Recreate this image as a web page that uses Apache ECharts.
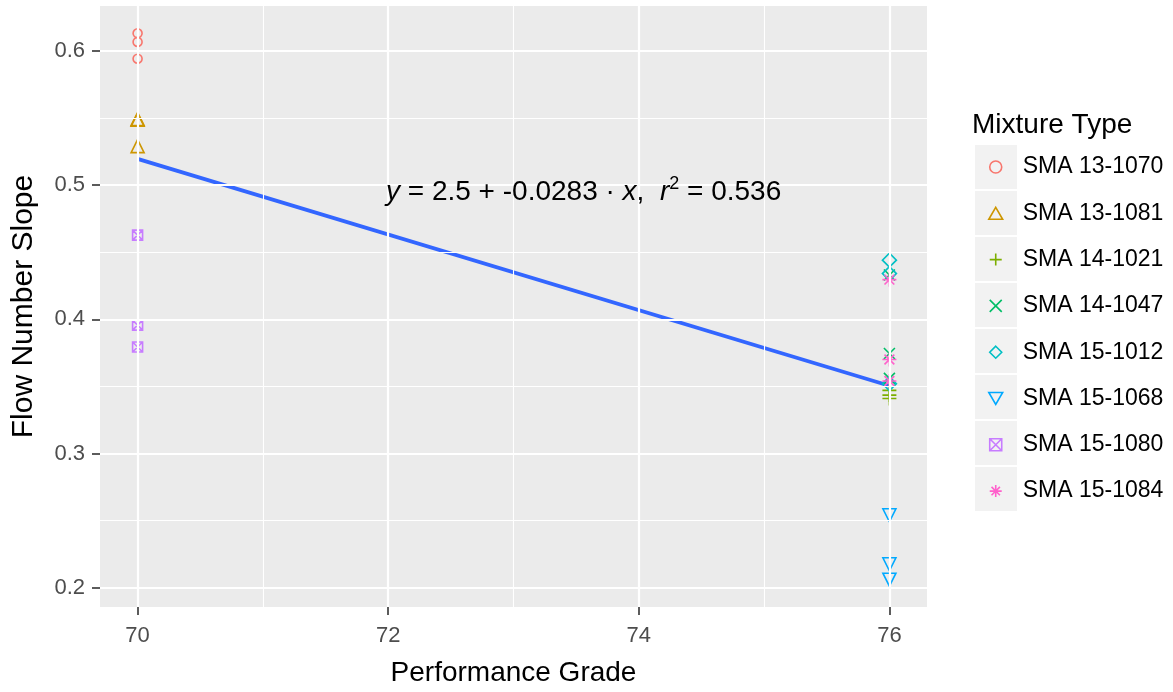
<!DOCTYPE html>
<html>
<head>
<meta charset="utf-8">
<script src="https://cdn.jsdelivr.net/npm/echarts@6/dist/echarts.min.js"></script>
<style>
html,body{margin:0;padding:0;background:#fff;}
#chart{width:1173px;height:692px;}
</style>
</head>
<body>
<div id="chart"></div>
<script>
// ---- data ----
const mixtures = ['SMA 13-1070','SMA 13-1081','SMA 14-1021','SMA 14-1047','SMA 15-1012','SMA 15-1068','SMA 15-1080','SMA 15-1084'];
const x_13_1070 = [70, 70, 70];
const y_13_1070 = [0.613, 0.6066, 0.5941];
const x_13_1081 = [70, 70, 70];
const y_13_1081 = [0.5492, 0.5486, 0.5290];
const x_14_1021 = [76, 76, 76];
const y_14_1021 = [0.3470, 0.3435, 0.3410];
const x_14_1047 = [76, 76, 76];
const y_14_1047 = [0.4330, 0.3745, 0.3560];
const x_15_1012 = [76, 76, 76];
const y_15_1012 = [0.4440, 0.4340, 0.3520];
const x_15_1068 = [76, 76, 76];
const y_15_1068 = [0.2540, 0.2175, 0.2060];
const x_15_1080 = [70, 70, 70];
const y_15_1080 = [0.4627, 0.3956, 0.3793];
const x_15_1084 = [76, 76, 76];
const y_15_1084 = [0.4295, 0.3700, 0.3540];
const fitX = [70, 76];
const fitY = [0.5195, 0.3505];
const xTicks = [70, 72, 74, 76];
const xMinor = [71, 73, 75];
const yTicks = [0.2, 0.3, 0.4, 0.5, 0.6];
const yMinor = [0.25, 0.35, 0.45, 0.55];
const equationText = ['y', ' = 2.5 + -0.0283 \u00B7 ', 'x', ',  ', 'r', '2', ' = 0.536'];

// ---- styling ----
const colors = ['#F8766D','#CD9600','#7CAE00','#00BE67','#00BFC4','#00A9FF','#C77CFF','#FF61CC'];
const shapes = [
  'circle',
  'path://M5 0L10 8.66L0 8.66Z',
  'path://M5 0L5 10M0 5L10 5',
  'path://M0 0L10 10M10 0L0 10',
  'path://M5 0L10 5L5 10L0 5Z',
  'path://M0 0L10 0L5 8.66Z',
  'path://M0 0L10 0L10 10L0 10ZM0 0L10 10M10 0L0 10',
  'path://M5 0L5 10M0 5L10 5M1.5 1.5L8.5 8.5M8.5 1.5L1.5 8.5'
];
const sizes = [9, 13, 14, 11, 14, 13, 10, 14];
const xs = [x_13_1070, x_13_1081, x_14_1021, x_14_1047, x_15_1012, x_15_1068, x_15_1080, x_15_1084];
const ys = [y_13_1070, y_13_1081, y_14_1021, y_14_1047, y_15_1012, y_15_1068, y_15_1080, y_15_1084];

const allY = [].concat(...ys);
const yLo = Math.min(...allY), yHi = Math.max(...allY);
const yPad = (yHi - yLo) * 0.05;
const xLo = 70, xHi = 76, xPad = (xHi - xLo) * 0.05;

const chart = echarts.init(document.getElementById('chart'), null, {renderer: 'canvas'});

const series = [];
const gl = (v, key, w) => ({[key]: v, lineStyle: {color: '#FFFFFF', width: w, type: 'solid'}});
series.push({
  type: 'line', data: [], silent: true, z: 1, symbol: 'none', animation: false,
  markLine: {
    silent: true, symbol: 'none', animation: false, label: {show: false},
    data: [].concat(
      xMinor.map(v => gl(v, 'xAxis', 1.1)),
      yMinor.map(v => gl(v, 'yAxis', 1.1)),
      xTicks.map(v => gl(v, 'xAxis', 2.2)),
      yTicks.map(v => gl(v, 'yAxis', 2.2))
    )
  }
});
series.push({
  type: 'line', name: 'fit', data: fitX.map((x, i) => [x, fitY[i]]),
  symbol: 'none', z: 3, lineStyle: {color: '#3366FF', width: 3.8}, silent: true, animation: false
});
mixtures.forEach((m, i) => {
  series.push({
    type: 'scatter', name: m, z: 4, animation: false,
    symbol: shapes[i], symbolSize: sizes[i],
    itemStyle: {color: 'rgba(0,0,0,0)', borderColor: colors[i], borderWidth: 1.6, opacity: 1},
    data: xs[i].map((x, j) => [x, ys[i][j]])
  });
});

const legendTop = 145, legendStep = 46;
const graphics = mixtures.map((m, i) => ({
  type: 'rect', z: 0, silent: true,
  shape: {x: 975, y: legendTop + i * legendStep, width: 42, height: 44},
  style: {fill: '#F2F2F2'}
}));
graphics.push({
  type: 'text', left: 386, top: 175, z: 10, silent: true,
  style: {
    text: '{i|' + equationText[0] + '}{n|' + equationText[1] + '}{i|' + equationText[2] + '}{n|' + equationText[3] + '}{i|' + equationText[4] + '}{s|' + equationText[5] + '}{n|' + equationText[6] + '}',
    rich: {
      n: {fontFamily: 'Liberation Sans', fontSize: 28, fill: '#000'},
      i: {fontFamily: 'Liberation Sans', fontSize: 28, fontStyle: 'italic', fill: '#000'},
      s: {fontFamily: 'Liberation Sans', fontSize: 18, fill: '#000', padding: [0, 0, 17, 0]}
    }
  }
});

chart.setOption({
  backgroundColor: '#FFFFFF',
  animation: false,
  textStyle: {fontFamily: 'Liberation Sans'},
  grid: {left: 100, right: 246, top: 6, bottom: 77, show: true, backgroundColor: '#EBEBEB', borderWidth: 0},
  title: {
    text: 'Mixture Type', left: 967, top: 106,
    textStyle: {fontFamily: 'Liberation Sans', fontSize: 28, fontWeight: 'normal', color: '#000'}
  },
  legend: {
    orient: 'vertical', left: 983, top: 150, itemGap: 22.3,
    itemWidth: 44, itemHeight: 12, symbolKeepAspect: true,
    selectedMode: false,
    textStyle: {fontFamily: 'Liberation Sans', fontSize: 23, color: '#000', lineHeight: 24},
    data: mixtures.map((m, i) => ({
      name: m, icon: shapes[i],
      itemStyle: {color: 'rgba(0,0,0,0)', borderColor: colors[i], borderWidth: 1.6}
    }))
  },
  xAxis: {
    type: 'value', min: xLo - xPad, max: xHi + xPad,
    name: 'Performance Grade', nameLocation: 'middle', nameGap: 52,
    nameTextStyle: {fontFamily: 'Liberation Sans', fontSize: 28, color: '#000'},
    axisLine: {show: false},
    axisTick: {show: true, length: 8, lineStyle: {color: '#333333', width: 1.6}, customValues: xTicks},
    axisLabel: {customValues: xTicks, fontSize: 22, color: '#4D4D4D', margin: 18, formatter: v => String(v)},
    splitLine: {show: false}, minorSplitLine: {show: false}
  },
  yAxis: {
    type: 'value', min: yLo - yPad, max: yHi + yPad,
    name: 'Flow Number Slope', nameLocation: 'middle', nameGap: 61, nameRotate: 90,
    nameTextStyle: {fontFamily: 'Liberation Sans', fontSize: 30, color: '#000'},
    axisLine: {show: false},
    axisTick: {show: true, length: 8, lineStyle: {color: '#333333', width: 1.6}, customValues: yTicks},
    axisLabel: {customValues: yTicks, fontSize: 22, color: '#4D4D4D', margin: 15, formatter: v => v.toFixed(1)},
    splitLine: {show: false}, minorSplitLine: {show: false}
  },
  graphic: graphics,
  series: series
});
</script>
</body>
</html>
